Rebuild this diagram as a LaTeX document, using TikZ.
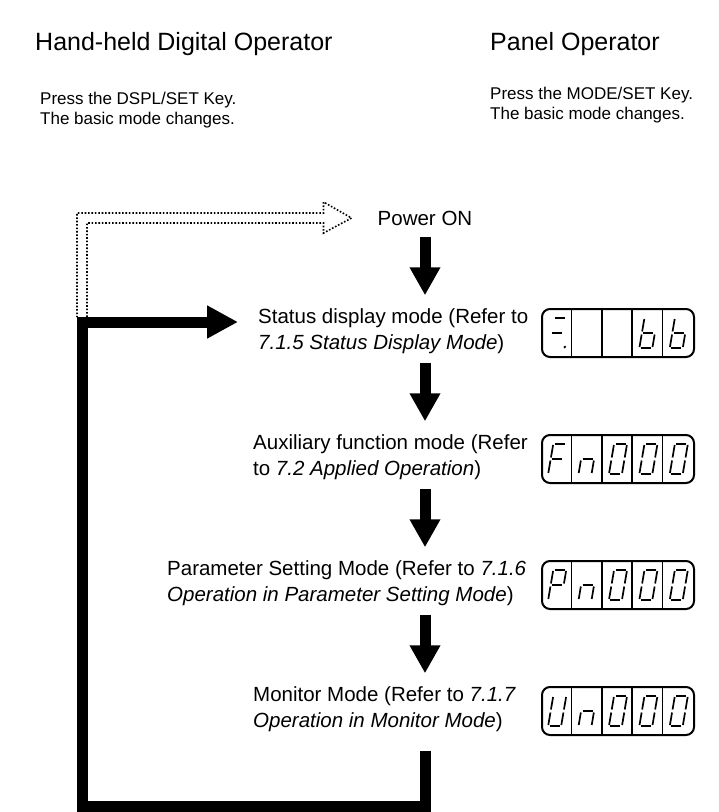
\documentclass[tikz,border=0pt]{standalone}
\usepackage{fontspec}
\setmainfont{Liberation Sans}
\usetikzlibrary{arrows.meta,calc}

\newcommand{\segA}{\draw[segline] (-5,-15) -- (5,-15);}
\newcommand{\segB}{\draw[segline] (6.5,-14) -- (6.5,-1.5);}
\newcommand{\segC}{\draw[segline] (6.5,1.5) -- (6.5,14);}
\newcommand{\segD}{\draw[segline] (-5,15) -- (5,15);}
\newcommand{\segE}{\draw[segline] (-6.5,1.5) -- (-6.5,14);}
\newcommand{\segF}{\draw[segline] (-6.5,-14) -- (-6.5,-1.5);}
\newcommand{\segG}{\draw[segline] (-5,0) -- (5,0);}
\newcommand{\segP}{\fill (10,14) circle (1.4);}
\newcommand{\cellat}[3]{\begin{scope}[shift={([xshift=#2*30.4pt]#1.center)},xslant=0.17]#3\end{scope}}

\begin{document}
\begin{tikzpicture}[x=1pt,y=-1pt,
		title/.style={font=\fontsize{25}{29}\selectfont, inner sep=0pt, anchor=west},
		note/.style={font=\fontsize{17}{19.5}\selectfont, align=left, inner sep=0pt, anchor=west},
		modetext/.style={font=\fontsize{20.5}{26}\selectfont, align=left, inner sep=0pt, anchor=west},
		panel/.style={draw, line width=2pt, rounded corners=8pt, minimum width=152pt, minimum height=48pt, inner sep=0pt},
		cellline/.style={line width=1.5pt},
		segline/.style={line width=1.7pt},
		bigarrow/.style={line width=11pt, -{Triangle[width=29pt,length=28pt]}},
		loopline/.style={line width=11pt, line join=miter, -{Triangle[width=31pt,length=31pt]}},
		dotbox/.style={line width=1.6pt, dash pattern=on 1.6pt off 1.8pt}]
	\useasboundingbox (0,0) rectangle (719,812);

	\node[title] (hh) at (35,44) {Hand-held Digital Operator};
	\node[title] (po) at (490,44) {Panel Operator};
	\node[note] (hhpress) at (40,110) {Press the DSPL/SET Key.\\The basic mode changes.};
	\node[note] (popress) at (490,105) {Press the MODE/SET Key.\\The basic mode changes.};

	\node[modetext, anchor=center] (pon) at (425,218) {Power ON};
	\node[modetext] (stat) at (258,331) {Status display mode (Refer to\\\textit{7.1.5 Status Display Mode})};
	\node[modetext] (aux) at (253,457) {Auxiliary function mode (Refer\\to \textit{7.2 Applied Operation})};
	\node[modetext] (par) at (167,583) {Parameter Setting Mode (Refer to \textit{7.1.6}\\\textit{Operation in Parameter Setting Mode})};
	\node[modetext] (mon) at (253,709) {Monitor Mode (Refer to \textit{7.1.7}\\\textit{Operation in Monitor Mode})};

	\foreach \n/\y in {1/333,2/459,3/585,4/711}{
		\node[panel] (disp\n) at (618,\y) {};
		\foreach \i in {1,...,4}
			\draw[cellline] ([xshift=\i*30.4pt]disp\n.north west) -- ([xshift=\i*30.4pt]disp\n.south west);
	}

	\cellat{disp1}{-2}{\segA\segG\segP}
	\cellat{disp1}{1}{\segF\segE\segD\segC\segG}
	\cellat{disp1}{2}{\segF\segE\segD\segC\segG}

	\cellat{disp2}{-2}{\segA\segF\segE\segG}
	\cellat{disp2}{-1}{\segG\segE\segC}
	\foreach \i in {0,1,2}{
		\cellat{disp2}{\i}{\segA\segB\segC\segD\segE\segF}
	}

	\cellat{disp3}{-2}{\segA\segB\segF\segG\segE}
	\cellat{disp3}{-1}{\segG\segE\segC}
	\foreach \i in {0,1,2}{
		\cellat{disp3}{\i}{\segA\segB\segC\segD\segE\segF}
	}

	\cellat{disp4}{-2}{\segB\segC\segD\segE\segF}
	\cellat{disp4}{-1}{\segG\segE\segC}
	\foreach \i in {0,1,2}{
		\cellat{disp4}{\i}{\segA\segB\segC\segD\segE\segF}
	}

	\coordinate (looptop) at (82,322);
	\coordinate (loopbot) at (82,806);

	\draw[dotbox] ($(looptop)+(5,-5)$) |- ($(pon.west)+(-54,5)$) -- ($(pon.west)+(-54,15)$)
		-- ($(pon.west)+(-26,0)$) -- ($(pon.west)+(-54,-16)$) -- ($(pon.west)+(-54,-5)$)
		-| ($(looptop)+(-5,-5)$);

	\draw[bigarrow, shorten <=19pt, shorten >=13pt] (pon.center) -- (pon |- stat.north);
	\draw[bigarrow, shorten <=9pt, shorten >=13pt] (stat.south -| pon) -- (aux.north -| pon);
	\draw[bigarrow, shorten <=9pt, shorten >=13pt] (aux.south -| pon) -- (par.north -| pon);
	\draw[bigarrow, shorten <=9pt, shorten >=13pt] (par.south -| pon) -- (mon.north -| pon);

	\draw[loopline, shorten <=19pt, shorten >=20pt] (mon.south -| pon) |- (loopbot) -- (looptop) -- (looptop -| stat.west);
\end{tikzpicture}
\end{document}
